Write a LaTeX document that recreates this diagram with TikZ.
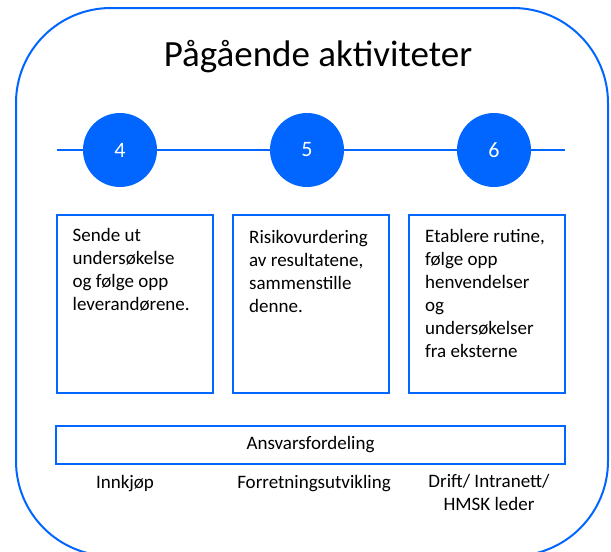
\documentclass[tikz,border=0pt]{standalone}
\usepackage{fontspec}
\setmainfont{Carlito}
\usetikzlibrary{positioning}
\definecolor{planblue}{RGB}{0,102,255}

\begin{document}
\begin{tikzpicture}[x=1pt,y=-1pt,
  phase/.style={circle,fill=planblue,text=white,minimum size=74pt,inner sep=0pt,font=\fontsize{22}{26}\selectfont},
  task/.style={draw=planblue,line width=2pt,minimum width=156pt,minimum height=178pt,inner sep=0pt},
  tasktext/.style={align=left,inner sep=0pt,font=\fontsize{19}{23}\selectfont},
  role/.style={align=center,inner sep=0pt,font=\fontsize{19}{23}\selectfont}]
\useasboundingbox (0,0) rectangle (611,552);
% The big rounded frame, cut off at the bottom
\begin{scope}
\clip (0,0) rectangle (611,552);
\draw[planblue,line width=2pt,rounded corners=95pt] (16,8) rectangle (608,556);
\end{scope}
\node[font=\fontsize{37}{44}\selectfont,anchor=base] (title) at (318,66) {Pågående aktiviteter};
% Then the time line with the three steps
\coordinate (line start) at (57,150);
\coordinate (line end) at (565,150);
\node[phase] (p4) at (120,150) {4};
\node[phase] (p5) at (307,150) {5};
\node[phase] (p6) at (494,150) {6};
\draw[planblue,line width=2.5pt] (line start) -- (p4) -- (p5) -- (p6) -- (line end);
% The boxes under each step
\node[task] (b4) at (134.5,304) {};
\node[task] (b5) at (311,304) {};
\node[task] (b6) at (487,304) {};
\node[tasktext,below right=14pt and 17pt of b4.north west,anchor=north west] (t4) {Sende ut\\undersøkelse\\og følge opp\\leverandørene.};
\node[tasktext,below right=16pt and 17pt of b5.north west,anchor=north west] (t5) {Risikovurdering\\av resultatene,\\sammenstille\\denne.};
\node[tasktext,below right=15pt and 17pt of b6.north west,anchor=north west] (t6) {Etablere rutine,\\følge opp\\henvendelser\\og\\undersøkelser\\fra eksterne};
% Who is responsible
\node[draw=planblue,line width=2pt,minimum width=509pt,minimum height=38pt,font=\fontsize{19}{23}\selectfont] (duty) at (310.5,445) {Ansvarsfordeling};
\node[role,anchor=base] (r4) at (125,488) {Innkjøp};
\node[role,anchor=base] (r5) at (314,488) {Forretningsutvikling};
\node[role,anchor=north] (r6) at (489,474) {Drift/ Intranett/\\HMSK leder};
\end{tikzpicture}
\end{document}
